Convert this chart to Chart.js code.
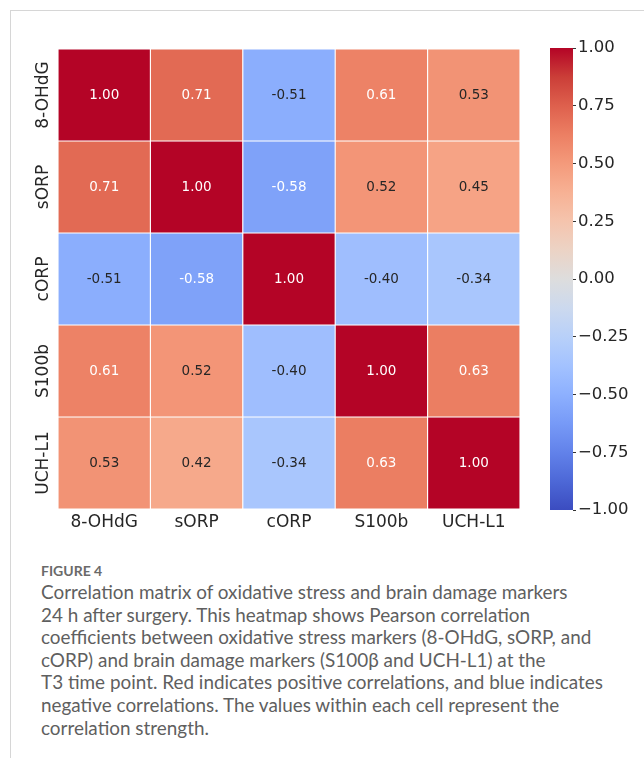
<!DOCTYPE html>
<html>
<head>
<meta charset="utf-8">
<script src="https://cdn.jsdelivr.net/npm/chart.js@4.4.1/dist/chart.umd.min.js"></script>
<style>
  body { margin: 0; background: #fff; }
  #page { position: relative; width: 644px; height: 758px; overflow: hidden; }
  #frame { position: absolute; left: 10px; top: 10px; right: -2px; bottom: -2px;
           border-top: 1px solid #d6d6d6; border-left: 1px solid #d6d6d6; }
  #heat { position: absolute; left: 0; top: 0; }
  #cbar { position: absolute; left: 540px; top: 0; }
  #caption { position: absolute; left: 41px; top: 561px; width: 603px;
             font-family: "Lato", "Open Sans", sans-serif; color: #5f5f5f; }
  #caption .fig { font-size: 14px; font-weight: 700; color: #6a6a6a; line-height: 20px; }
  #caption p { margin: 0; font-size: 18.9px; line-height: 22.6px; white-space: nowrap; }
</style>
</head>
<body>
<div id="page">
  <div id="frame"></div>
  <canvas id="heat" width="644" height="545"></canvas>
  <canvas id="cbar" width="104" height="545"></canvas>
  <div id="caption">
    <div class="fig">FIGURE 4</div>
    <p>Correlation matrix of oxidative stress and brain damage markers<br>
    24 h after surgery. This heatmap shows Pearson correlation<br>
    coefficients between oxidative stress markers (8-OHdG, sORP, and<br>
    cORP) and brain damage markers (S100β and UCH-L1) at the<br>
    T3 time point. Red indicates positive correlations, and blue indicates<br>
    negative correlations. The values within each cell represent the<br>
    correlation strength.</p>
  </div>
</div>
<script>
// Data ----------------------------------------------------------------------->
const colLabels = ["8-OHdG", "sORP", "cORP", "S100b", "UCH-L1"];
const rowLabels = ["8-OHdG", "sORP", "cORP", "S100b", "UCH-L1"];

const row8OHdG = [1.00, 0.71, -0.51, 0.61, 0.53];
const rowSORP  = [0.71, 1.00, -0.58, 0.52, 0.45];
const rowCORP  = [-0.51, -0.58, 1.00, -0.40, -0.34];
const rowS100b = [0.61, 0.52, -0.40, 1.00, 0.63];
const rowUCHL1 = [0.53, 0.42, -0.34, 0.63, 1.00];
const matrix = [row8OHdG, rowSORP, rowCORP, rowS100b, rowUCHL1];

const cbarMin = -1;
const cbarMax = 1;
const cbarStep = 0.25;

// coolwarm colormap stops (matplotlib)
const coolwarm = [
  [0.2298, 0.2987, 0.7537], [0.3039, 0.4065, 0.8450], [0.3830, 0.5094, 0.9174],
  [0.4667, 0.6046, 0.9682], [0.5530, 0.6889, 0.9954], [0.6392, 0.7596, 0.9982],
  [0.7222, 0.8140, 0.9766], [0.7987, 0.8498, 0.9317], [0.8654, 0.8654, 0.8654],
  [0.9241, 0.8274, 0.7745], [0.9589, 0.7698, 0.6780], [0.9700, 0.6943, 0.5794],
  [0.9580, 0.6028, 0.4818], [0.9239, 0.4973, 0.3880], [0.8692, 0.3783, 0.3003],
  [0.7956, 0.2413, 0.2205], [0.7057, 0.0156, 0.1502]
];

function cmapRGB(v) {
  let t = (v - cbarMin) / (cbarMax - cbarMin);
  t = Math.max(0, Math.min(1, t)) * (coolwarm.length - 1);
  const i = Math.min(Math.floor(t), coolwarm.length - 2);
  const f = t - i;
  return coolwarm[i].map((c, k) => c + (coolwarm[i + 1][k] - c) * f);
}
function cmap(v) {
  const c = cmapRGB(v);
  return `rgb(${Math.round(c[0] * 255)},${Math.round(c[1] * 255)},${Math.round(c[2] * 255)})`;
}
// seaborn picks annotation colour from cell luminance
function textColor(v) {
  const lin = cmapRGB(v).map(c => c <= 0.03928 ? c / 12.92 : Math.pow((c + 0.055) / 1.055, 2.4));
  const lum = 0.2126 * lin[0] + 0.7152 * lin[1] + 0.0722 * lin[2];
  return lum > 0.408 ? "#262626" : "#ffffff";
}

const FONT = "'DejaVu Sans', sans-serif";

// Heatmap -------------------------------------------------------------------->
const cellText = {
  id: "cellText",
  afterDatasetsDraw(chart) {
    const { ctx, scales: { x, y } } = chart;
    ctx.save();
    ctx.textAlign = "center";
    ctx.textBaseline = "middle";
    ctx.font = "13.5px " + FONT;
    matrix.forEach((row, r) => {
      row.forEach((v, c) => {
        ctx.fillStyle = textColor(v);
        ctx.fillText(v.toFixed(2), x.getPixelForValue(c), y.getPixelForValue(r + 0.5));
      });
    });
    // rotated row labels
    ctx.font = "17px " + FONT;
    ctx.fillStyle = "#262626";
    rowLabels.forEach((lab, r) => {
      ctx.save();
      ctx.translate(chart.chartArea.left - 14, y.getPixelForValue(r + 0.5));
      ctx.rotate(-Math.PI / 2);
      ctx.fillText(lab, 0, 0);
      ctx.restore();
    });
    ctx.restore();
  }
};

new Chart(document.getElementById("heat"), {
  type: "bar",
  data: {
    labels: colLabels,
    datasets: matrix.map((row, r) => ({
      label: rowLabels[r],
      data: row.map(() => [r, r + 1]),
      backgroundColor: row.map(v => cmap(v)),
      borderColor: "#ffffff",
      borderWidth: 0.9,
      borderSkipped: false,
      grouped: false,
      barPercentage: 1,
      categoryPercentage: 1
    }))
  },
  options: {
    responsive: false,
    animation: false,
    events: [],
    layout: { padding: { left: 58, top: 49, right: 124, bottom: 0 } },
    plugins: { legend: { display: false }, tooltip: { enabled: false } },
    scales: {
      x: {
        grid: { display: false, drawTicks: false },
        border: { display: false },
        ticks: { color: "#262626", font: { family: FONT, size: 17 }, padding: 3, maxRotation: 0 },
        afterFit(scale) { scale.height = 36; }
      },
      y: {
        type: "linear", min: 0, max: 5, reverse: true, display: false
      }
    }
  },
  plugins: [cellText]
});

// Colour bar ----------------------------------------------------------------->
new Chart(document.getElementById("cbar"), {
  type: "bar",
  data: {
    labels: ["cbar"],
    datasets: [{
      data: [[cbarMin, cbarMax]],
      backgroundColor(ctx) {
        const area = ctx.chart.chartArea;
        if (!area) return "#ccc";
        const g = ctx.chart.ctx.createLinearGradient(0, area.bottom, 0, area.top);
        coolwarm.forEach((c, i) => {
          g.addColorStop(i / (coolwarm.length - 1),
            `rgb(${Math.round(c[0] * 255)},${Math.round(c[1] * 255)},${Math.round(c[2] * 255)})`);
        });
        return g;
      },
      borderWidth: 0,
      barPercentage: 1,
      categoryPercentage: 1
    }]
  },
  options: {
    responsive: false,
    animation: false,
    events: [],
    layout: { padding: { left: 10, top: 48, right: 0, bottom: 35 } },
    plugins: { legend: { display: false }, tooltip: { enabled: false } },
    scales: {
      x: { display: false },
      y: {
        position: "right",
        min: cbarMin, max: cbarMax,
        grid: { drawOnChartArea: false, tickLength: 3, color: "#333", lineWidth: 1 },
        border: { display: false },
        ticks: {
          stepSize: cbarStep,
          padding: 2,
          color: "#262626",
          font: { family: FONT, size: 16.5 },
          callback: v => (v < 0 ? "\u2212" : "") + Math.abs(v).toFixed(2)
        },
        afterFit(scale) { scale.width = 71; }
      }
    }
  }
});
</script>
</body>
</html>
